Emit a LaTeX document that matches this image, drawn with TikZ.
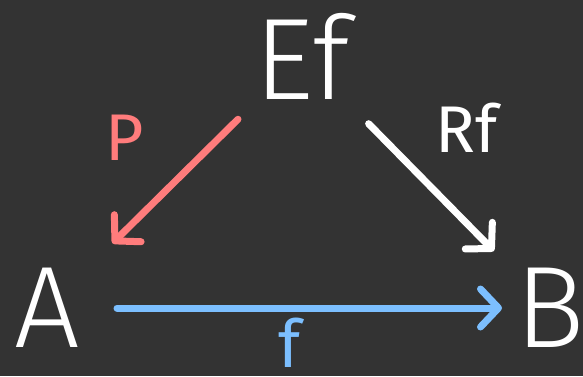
\documentclass[tikz,border=0pt]{standalone}
\usepackage{fontspec}
\setmainfont{Fira Sans}[UprightFont=* Light]
\newfontfamily\labelfont{Fira Sans}
\usetikzlibrary{positioning, arrows.meta}
\definecolor{bgdark}{HTML}{333333}
\definecolor{pinkline}{HTML}{FF7C7C}
\definecolor{blueline}{HTML}{7CBFFF}

\begin{document}
\begin{tikzpicture}[
    x=1pt, y=1pt,
    >={Straight Barb[length=18pt, width=38pt, line cap=round, round]},
    objnode/.style={inner sep=0pt, text=white, font=\fontsize{116}{116}\selectfont},
    maplabel/.style={inner sep=0pt, font=\labelfont\fontsize{66}{66}\selectfont},
    maparrow/.style={->, line width=7pt, line cap=round}
]
\fill[bgdark] (0,0) rectangle (583,376);
\useasboundingbox (0,0) rectangle (583,376);

% Nodes
\node[objnode] (Ef) at (302,320) {Ef};
\node[objnode] (A) at (47,68) {A};
\node[objnode] (B) at (550,68) {B};

\node[maplabel, text=pinkline] (Plabel) at (125,238) {P};
\node[maplabel, text=white] (Rflabel) at (467,248) {Rf};
\node[maplabel, text=blueline] (flabel) at (290,33) {f};

% Connections
\draw[maparrow, pinkline, shorten <=90pt, shorten >=92pt] (Ef.center) -- (A.center);
\draw[maparrow, white, shorten <=95pt, shorten >=80pt] (Ef.center) -- (B.center);
\draw[maparrow, blueline, shorten <=70pt, shorten >=48pt] (A.center) -- (B.center);

\end{tikzpicture}
\end{document}
